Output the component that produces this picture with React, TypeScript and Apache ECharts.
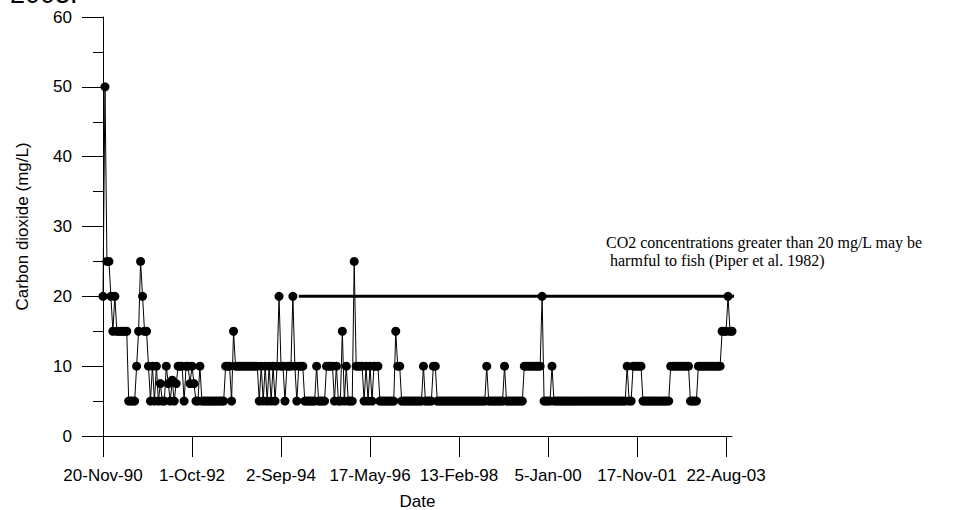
import { useEffect, useRef } from 'react';
import * as echarts from 'echarts';

// Tick labels shown every TICK_EVERY samples on the category (sample) axis
const tickLabels = ['20-Nov-90', '1-Oct-92', '2-Sep-94', '17-May-96', '13-Feb-98', '5-Jan-00', '17-Nov-01', '22-Aug-03'];
const TICK_EVERY = 45;

// Carbon dioxide (mg/L), one value per sample, in sampling order
const co2 = [
  20, 50, 25, 25, 20, 15, 20, 15, 15, 15, 15, 15, 15,
  5, 5, 5, 5,
  10, 15, 25, 20, 15, 15, 10, 5,
  10, 5, 10, 5, 7.5, 5, 5, 10, 7.5, 5, 8, 5, 7.5, 10, 10, 10, 5, 10, 10, 7.5,
  10, 7.5, 5, 5, 10, 5,
  5, 5, 5, 5, 5, 5, 5, 5, 5, 5, 5,
  10, 10, 10, 5, 15,
  10, 10, 10, 10, 10, 10, 10, 10, 10, 10, 10, 10,
  5, 10, 5, 10, 5, 10, 5, 10, 5, 10, 20,
  10, 10, 5, 10, 10, 10, 20, 10, 5, 10, 10, 10,
  5, 5, 5, 5, 5, 5,
  10, 5, 5, 5, 5,
  10, 10, 10, 10, 5, 10, 5, 5,
  15, 5, 10, 5, 5, 5, 25,
  10, 10, 10, 10, 5, 10, 5, 10, 5, 10, 10, 10,
  5, 5, 5, 5, 5, 5, 5, 5,
  15, 10, 10,
  5, 5, 5, 5, 5, 5, 5, 5, 5, 5, 5,
  10,
  5, 5, 5, 5,
  10, 10,
  5, 5, 5, 5, 5, 5, 5, 5, 5, 5, 5, 5, 5, 5, 5, 5, 5, 5, 5, 5, 5, 5, 5, 5, 5,
  10,
  5, 5, 5, 5, 5, 5, 5, 5,
  10,
  5, 5, 5, 5, 5, 5, 5, 5, 5,
  10, 10, 10, 10, 10, 10, 10, 10, 10,
  20,
  5, 5, 5, 5,
  10,
  5, 5, 5, 5, 5, 5, 5, 5, 5, 5, 5, 5, 5, 5, 5, 5, 5, 5, 5, 5, 5, 5, 5, 5, 5, 5, 5, 5, 5, 5, 5, 5, 5, 5, 5, 5, 5,
  10,
  5, 5,
  10, 10, 10, 10, 10,
  5, 5, 5, 5, 5, 5, 5, 5, 5, 5, 5, 5, 5, 5,
  10, 10, 10, 10, 10, 10, 10, 10, 10, 10,
  5, 5, 5, 5,
  10, 10, 10, 10, 10, 10, 10, 10, 10, 10, 10, 10,
  15, 15, 15,
  20,
  15, 15,
];

// Threshold reference line (mg/L) and its extent in sample-index units
const thresholdValue = 20;
const thresholdStart = 99;
const thresholdEnd = 440;

const noteLines = ['CO2 concentrations greater than 20 mg/L may be', ' harmful to fish (Piper et al. 1982)'];
const pageHeading = '2003.';

export default function App() {
  const ref = useRef<HTMLDivElement>(null);

  useEffect(() => {
    if (!ref.current) return;
    const chart = echarts.init(ref.current, null, { renderer: 'svg' });
    const sans = "'Liberation Sans', Arial, sans-serif";
    const serif = "'Liberation Serif', 'Times New Roman', serif";

    chart.setOption({
      animation: false,
      backgroundColor: '#ffffff',
      grid: { left: 103, right: 234, top: 17, bottom: 74, containLabel: false, outerBoundsMode: 'none' },
      xAxis: [
        {
          type: 'category',
          data: co2.map((_, i) => String(i)),
          boundaryGap: false,
          axisLine: { show: true, lineStyle: { color: '#000', width: 1 } },
          axisTick: { show: true, interval: TICK_EVERY - 1, length: 21, lineStyle: { color: '#000', width: 1 } },
          axisLabel: {
            interval: TICK_EVERY - 1,
            margin: 31,
            color: '#000',
            fontSize: 17,
            fontFamily: sans,
            formatter: (_v: string, i: number) => (i % TICK_EVERY === 0 ? tickLabels[i / TICK_EVERY] ?? '' : ''),
          },
          splitLine: { show: false },
          name: 'Date',
          nameLocation: 'middle',
          nameGap: 57,
          nameTextStyle: { color: '#000', fontSize: 17, fontFamily: sans },
        },
        {
          type: 'value',
          min: 0,
          max: co2.length - 1,
          show: false,
        },
      ],
      yAxis: {
        type: 'value',
        min: 0,
        max: 60,
        interval: 10,
        axisLine: { show: true, lineStyle: { color: '#000', width: 1 } },
        axisTick: { show: true, length: 21, lineStyle: { color: '#000', width: 1 } },
        minorTick: { show: true, splitNumber: 2, length: 10, lineStyle: { color: '#000', width: 1 } },
        axisLabel: { margin: 31, color: '#000', fontSize: 17, fontFamily: sans },
        splitLine: { show: false },
        name: 'Carbon dioxide (mg/L)',
        nameLocation: 'middle',
        nameGap: 72,
        nameTextStyle: { color: '#000', fontSize: 17, fontFamily: sans },
      },
      series: [
        {
          type: 'line',
          xAxisIndex: 1,
          data: [[thresholdStart, thresholdValue], [thresholdEnd, thresholdValue]],
          clip: false,
          symbol: 'none',
          lineStyle: { color: '#000', width: 3 },
          silent: true,
          z: 1,
        },
        {
          type: 'line',
          xAxisIndex: 0,
          data: co2,
          showAllSymbol: true,
          symbol: 'circle',
          symbolSize: 9,
          itemStyle: { color: '#000' },
          lineStyle: { color: '#000', width: 1 },
          z: 2,
        },
      ],
      graphic: [
        {
          type: 'text',
          x: 10,
          y: -20,
          style: { text: pageHeading, fontSize: 27, fontFamily: sans, fill: '#000', verticalAlign: 'top' },
        },
        {
          type: 'text',
          x: 606,
          y: 242,
          style: { text: noteLines[0], fontSize: 16, fontFamily: serif, fill: '#000', verticalAlign: 'middle' },
        },
        {
          type: 'text',
          x: 606,
          y: 260,
          style: { text: noteLines[1], fontSize: 16, fontFamily: serif, fill: '#000', verticalAlign: 'middle' },
        },
      ],
    });

    return () => chart.dispose();
  }, []);

  return <div ref={ref} style={{ position: 'absolute', left: 0, top: 0, width: 966, height: 510 }} />;
}
